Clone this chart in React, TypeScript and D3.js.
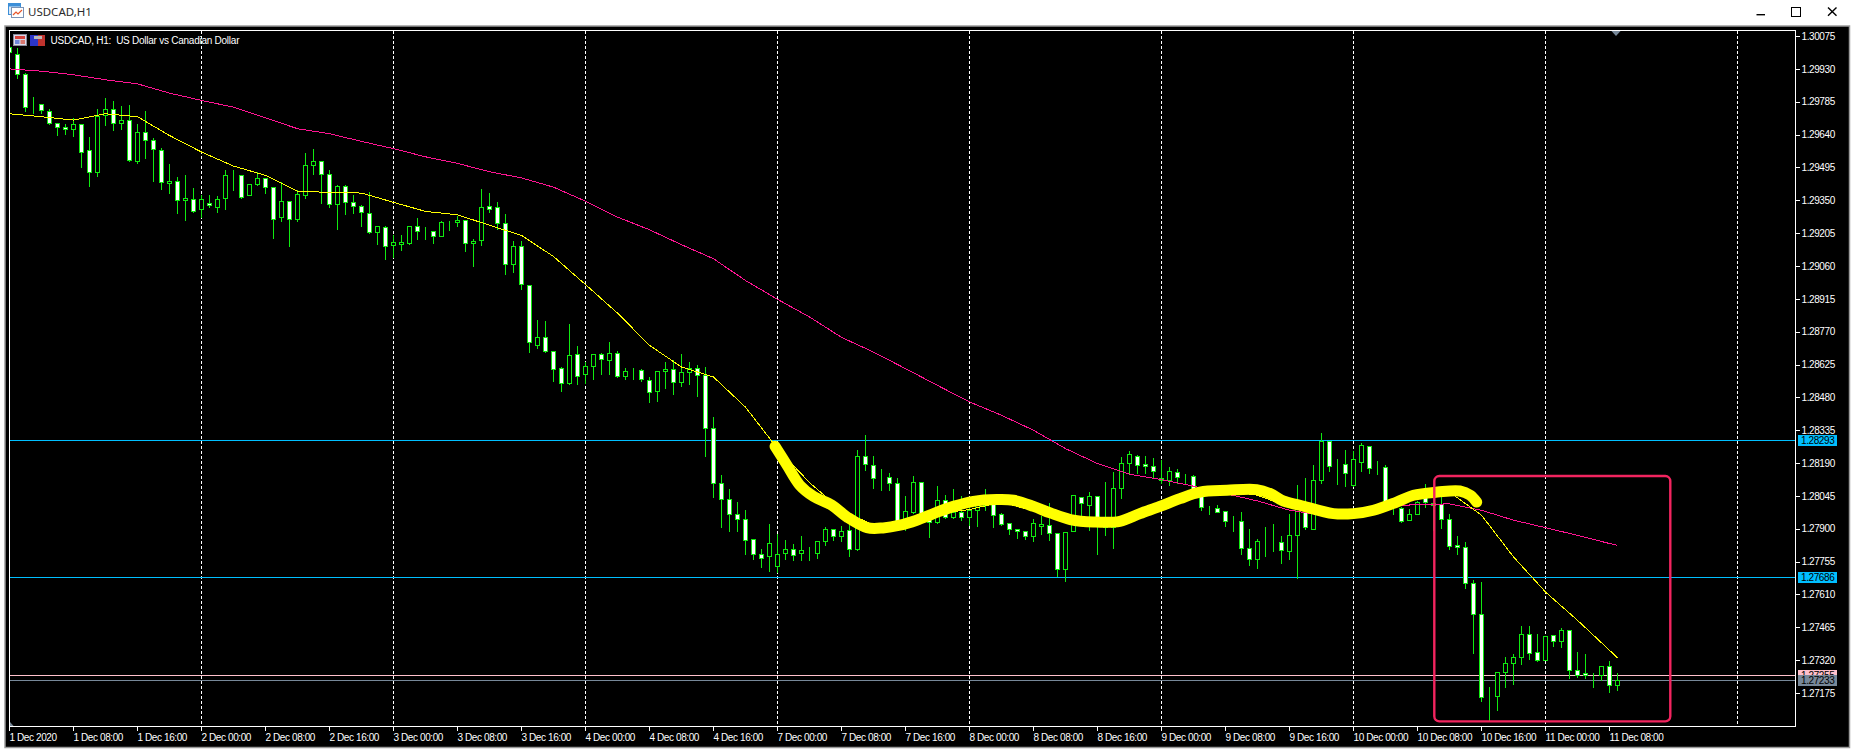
import React, { useEffect, useRef } from 'react';
import * as d3 from 'd3';

// all prices below are in points (1 point = 0.00001)
const highs = [
  130043,130028,129918,129810,129781,129756,129697,129690,129719,129685,
  129634,129756,129804,129793,129769,129773,129690,129748,129628,129584,
  129513,129457,129466,129407,129378,129378,129372,129488,129488,129465,
  129421,129481,129454,129407,129434,129346,129400,129562,129579,129528,
  129487,129421,129421,129378,129334,129391,129241,129241,129201,129201,
  129237,129275,129237,129219,129263,129263,129285,129266,129182,129403,
  129387,129347,129293,129174,129174,128975,128825,128821,128690,128619,
  128807,128710,128640,128675,128679,128729,128690,128613,128613,128609,
  128573,128595,128640,128648,128675,128640,128626,128618,128397,128141,
  128079,128023,127987,127859,127816,127926,127882,127854,127837,127872,
  127825,127851,127912,127903,127918,127925,128253,128319,128226,128169,
  128151,128129,128050,128137,128112,127976,128094,128054,128079,128050,
  128006,128050,128079,128050,127975,127932,127904,127891,127947,127962,
  128018,127881,127888,128053,128045,128068,128045,128112,128157,128222,
  128248,128229,128226,128216,128207,128178,128169,128148,128141,128065,
  128004,128009,127984,127962,127979,127903,127860,127912,127925,127872,
  127969,128097,128128,128187,128328,128288,128212,128253,128248,128282,
  128265,128204,128187,128020,127999,127991,128028,128101,128020,128043,
  127969,127873,127847,127678,127669,127207,127267,127340,127351,127476,
  127476,127441,127432,127432,127466,127453,127360,127351,127267,127300,
  127320,127269,
];

const lows = [
  129999,129891,129746,129734,129737,129687,129638,129643,129634,129498,
  129413,129459,129682,129660,129665,129525,129516,129538,129435,129400,
  129384,129293,129263,129298,129278,129319,129300,129313,129396,129360,
  129371,129418,129384,129185,129259,129148,129260,129362,129466,129340,
  129318,129224,129290,129294,129237,129207,129157,129091,129099,129131,
  129157,129179,129179,129162,129190,129219,129237,129126,129060,129153,
  129299,129224,129025,129034,128959,128678,128700,128678,128551,128510,
  128540,128540,128543,128563,128584,128584,128569,128563,128562,128551,
  128460,128466,128522,128495,128532,128540,128488,128219,128040,127909,
  127891,127891,127790,127767,127732,127715,127707,127767,127763,127763,
  127763,127772,127829,127851,127847,127781,127807,128160,128081,128072,
  128072,127910,127895,127969,127940,127865,127925,127947,127947,127937,
  127917,127913,127984,127909,127918,127878,127857,127856,127844,127878,
  127851,127693,127668,127888,127947,127895,127790,127873,127816,128037,
  128146,128146,128146,128123,128104,128094,128101,128098,128057,127984,
  127966,127975,127910,127891,127790,127741,127725,127781,127803,127750,
  127767,127681,127900,127900,128104,128157,128098,128090,128087,128156,
  128148,128143,128006,127966,127932,127937,127965,127994,127895,127904,
  127812,127790,127640,127350,127141,127057,127101,127203,127216,127304,
  127326,127316,127319,127384,127379,127242,127244,127242,127200,127234,
  127181,127189,
];

const opens = [
  130025,129994,129906,129765,129773,129746,129693,129675,129663,129685,
  129571,129473,129725,129754,129693,129703,129525,129650,129615,129571,
  129425,129434,129350,129354,129310,129337,129322,129359,129462,129460,
  129371,129421,129447,129407,129274,129346,129269,129375,129504,129522,
  129465,129332,129412,129341,129324,129293,129209,129231,129151,129156,
  129163,129235,129213,129213,129191,129254,129253,129262,129160,129173,
  129324,129319,129249,129068,129147,128975,128713,128746,128684,128609,
  128543,128670,128582,128618,128670,128644,128675,128573,128601,128600,
  128556,128507,128595,128604,128547,128591,128609,128578,128344,128101,
  128031,127965,127943,127854,127788,127778,127734,127795,127810,127791,
  127798,127795,127844,127898,127866,127894,127809,128220,128181,128126,
  128128,128101,127918,127976,128106,127969,127928,128026,127954,127975,
  127954,127981,128006,128016,127965,127925,127898,127890,127866,127910,
  127915,127881,127722,127888,128042,128007,128044,127940,127907,128078,
  128190,128223,128185,128176,128123,128115,128150,128131,128132,128057,
  127995,127991,127978,127937,127934,127815,127766,127848,127848,127841,
  127800,127872,127976,127901,128113,128288,128182,128185,128094,128193,
  128265,128169,128172,127991,127991,127937,127967,128057,128013,128009,
  127943,127828,127819,127660,127523,127160,127160,127266,127306,127332,
  127435,127356,127319,127429,127404,127453,127276,127263,127251,127254,
  127294,127209,
];

const closes = [
  130006,129906,129763,129765,129747,129693,129675,129663,129685,129565,
  129473,129723,129754,129690,129703,129526,129650,129615,129575,129429,
  129434,129350,129359,129301,129354,129328,129354,129460,129462,129365,
  129421,129447,129407,129269,129346,129269,129376,129504,129522,129465,
  129332,129412,129341,129324,129297,129209,129235,129147,129165,129165,
  129235,129213,129213,129191,129253,129254,129262,129160,129169,129319,
  129310,129249,129068,129147,128982,128723,128746,128684,128604,128543,
  128666,128573,128618,128670,128648,128675,128573,128596,128601,128560,
  128503,128595,128604,128547,128591,128609,128578,128344,128101,128031,
  127963,127941,127850,127788,127773,127837,127788,127810,127782,127806,
  127798,127845,127898,127866,127890,127809,128220,128184,128126,128126,
  128100,127925,127978,128106,127943,127929,128026,127954,127975,127951,
  127984,128006,128043,127959,127922,127897,127888,127870,127925,127920,
  127881,127722,127885,128048,128013,128044,127917,127906,128079,128190,
  128229,128181,128176,128154,128115,128154,128128,128131,128065,127994,
  127995,127976,127934,127937,127813,127766,127846,127848,127848,127806,
  127872,127991,127906,128115,128288,128175,128182,128144,128207,128269,
  128168,128169,128013,127991,127935,127965,128016,128016,128004,127943,
  127822,127819,127660,127523,127157,127160,127267,127307,127334,127435,
  127351,127319,127426,127404,127453,127275,127254,127254,127251,127294,
  127209,127232,
];

// moving averages, read every 4th bar plus the last one
const maBars = [...d3.range(0, 201, 4), 201];
const maFast = [
  129734,129721,129706,129734,129721,129638,129565,129503,129462,129392,
  129387,129384,129343,129303,129288,129242,129197,129104,128980,128854,
  128712,128616,128572,128439,128256,128106,127984,127918,127932,127969,
  127987,128020,127981,127952,127932,127960,128001,128050,128072,128050,
  127998,127981,127969,128006,128042,128064,127962,127778,127623,127498,
  127366,127332,
];
const maSlow = [
  129932,129922,129906,129884,129866,129825,129793,129763,129716,129668,
  129646,129612,129580,129544,129515,129478,129451,129410,129348,129278,
  129222,129156,129094,128998,128915,128837,128747,128682,128609,128535,
  128462,128403,128337,128256,128190,128143,128119,128090,128057,128025,
  127984,127962,127979,128001,128009,128012,127984,127940,127907,127873,
  127837,127829,
];

// the thick yellow line drawn by hand over the chart
const brushBars = [
  95.7,97.2,98.8,100.5,102.8,104.7,107.2,109.2,111.3,113.4,115.5,118,120.5,123.4,125.5,128,130.1,132.6,135.5,
  138.8,141.3,143.8,146.3,148.8,152.2,155.9,157.6,159.2,161.3,165.5,168,170.5,173.4,175.5,178.5,181.3,182.6,183.4,
];
const brushPrices = [
  128266,128182,128094,128045,128006,127954,127907,127906,127918,127940,127969,128001,128023,128031,128028,128001,127972,127943,127932,
  127935,127969,128001,128035,128064,128072,128075,128057,128025,128006,127969,127969,127984,128020,128050,128064,128069,128050,128020,
];

// the rounded box drawn by hand: bars and prices of its corners
const boxBars = [178.1, 207.6];
const boxPrices = [128135, 127052];

const priceTicks = [
  130075,129930,129785,129640,129495,129350,129205,129060,128915,128770,128625,
  128480,128335,128190,128045,127900,127755,127610,127465,127320,127175,
];

const timeLabels = [
  '1 Dec 2020','1 Dec 08:00','1 Dec 16:00','2 Dec 00:00','2 Dec 08:00','2 Dec 16:00',
  '3 Dec 00:00','3 Dec 08:00','3 Dec 16:00','4 Dec 00:00','4 Dec 08:00','4 Dec 16:00',
  '7 Dec 00:00','7 Dec 08:00','7 Dec 16:00','8 Dec 00:00','8 Dec 08:00','8 Dec 16:00',
  '9 Dec 00:00','9 Dec 08:00','9 Dec 16:00','10 Dec 00:00','10 Dec 08:00','10 Dec 16:00',
  '11 Dec 00:00','11 Dec 08:00',
];

const gridBars = d3.range(24, 217, 24);
const levelLines = [
  { price: 128293, color: '#00bfff' },
  { price: 127686, color: '#00bfff' },
  { price: 127255, color: '#ffc0cb' },
  { price: 127233, color: '#778899' },
];

const AXIS_FONT = '"Liberation Sans", Arial, sans-serif';

const App: React.FC = () => {
  const svgRef = useRef<SVGSVGElement>(null);

  useEffect(() => {
    if (!svgRef.current) return;
    const svg = d3.select(svgRef.current);
    svg.selectAll('*').remove();

    const left = 9.5, right = 1795.5, top = 30.5, bottom = 726.5;

    // 8px per bar, one pixel per 4.41 points
    const x = d3.scaleLinear().domain([0, 200]).range([9.5, 1609.5]);
    const y = d3.scaleLinear().domain([127175, 130075]).range([693.5, 36.5]);
    const py = (p: number) => Math.round(y(p) - 0.5) + 0.5;

    // window chrome
    svg.append('rect').attr('width', 1857).attr('height', 754).attr('fill', '#ffffff');
    svg.append('text').attr('x', 28).attr('y', 16)
      .attr('font-family', '"Noto Sans", sans-serif').attr('font-size', 11.5).attr('fill', '#2b2b2b')
      .text('USDCAD,H1');

    const icon = svg.append('g');
    icon.append('rect').attr('x', 8.5).attr('y', 3.5).attr('width', 12).attr('height', 11).attr('fill', '#dbe9f8').attr('stroke', '#3d8fd8');
    icon.append('rect').attr('x', 8.5).attr('y', 3.5).attr('width', 12).attr('height', 3).attr('fill', '#3d8fd8');
    icon.append('rect').attr('x', 11.5).attr('y', 7.5).attr('width', 12).attr('height', 10).attr('fill', '#ffffff').attr('stroke', '#7b93b5');
    icon.append('path').attr('d', 'M13 15 L16 12 L18 14 L22 10').attr('fill', 'none').attr('stroke', '#e8562a').attr('stroke-width', 1.2);

    svg.append('rect').attr('x', 1756.5).attr('y', 14).attr('width', 8.5).attr('height', 1.4).attr('fill', '#000');
    svg.append('rect').attr('x', 1791.5).attr('y', 7.5).attr('width', 9).attr('height', 9).attr('fill', 'none').attr('stroke', '#000');
    svg.append('path').attr('d', 'M1828 7.5 L1836.5 15.8 M1836.5 7.5 L1828 15.8').attr('stroke', '#000').attr('stroke-width', 1.4);

    // chart child window
    svg.append('rect').attr('x', 5).attr('y', 26).attr('width', 1844.5).attr('height', 721.5)
      .attr('fill', '#000000').attr('stroke', '#9a9a9a').attr('stroke-width', 1.5);

    const defs = svg.append('defs');
    defs.append('clipPath').attr('id', 'plot').append('rect')
      .attr('x', left).attr('y', top).attr('width', right - left).attr('height', bottom - top);

    const plot = svg.append('g').attr('clip-path', 'url(#plot)');

    // vertical grid
    plot.append('g').selectAll('line').data(gridBars).join('line')
      .attr('x1', d => x(d)).attr('x2', d => x(d))
      .attr('y1', top).attr('y2', bottom)
      .attr('stroke', '#ffffff').attr('stroke-dasharray', '3 2')
      .attr('shape-rendering', 'crispEdges');

    // horizontal levels
    plot.append('g').selectAll('line').data(levelLines).join('line')
      .attr('x1', left).attr('x2', right)
      .attr('y1', d => py(d.price)).attr('y2', d => py(d.price))
      .attr('stroke', d => d.color)
      .attr('shape-rendering', 'crispEdges');

    // candles
    const green = '#10ea10';
    const bars = d3.range(highs.length);
    const candles = plot.append('g').attr('shape-rendering', 'crispEdges');
    candles.selectAll('line').data(bars).join('line')
      .attr('x1', i => x(i)).attr('x2', i => x(i))
      .attr('y1', i => py(highs[i])).attr('y2', i => py(lows[i]))
      .attr('stroke', green);
    candles.selectAll('rect').data(bars).join('rect')
      .attr('x', i => x(i) - 2).attr('width', 4)
      .attr('y', i => py(Math.max(opens[i], closes[i])))
      .attr('height', i => py(Math.min(opens[i], closes[i])) - py(Math.max(opens[i], closes[i])))
      .attr('fill', i => (closes[i] < opens[i] ? '#ffffff' : '#000000'))
      .attr('stroke', green);

    // moving averages
    const maLine = d3.line<number>()
      .x((_, i) => x(maBars[i]))
      .y(d => y(d));
    plot.append('path').datum(maSlow).attr('d', maLine)
      .attr('fill', 'none').attr('stroke', '#ff1493').attr('shape-rendering', 'crispEdges');
    plot.append('path').datum(maFast).attr('d', maLine)
      .attr('fill', 'none').attr('stroke', '#ffff00').attr('shape-rendering', 'crispEdges');

    // hand drawn marks
    const brush = d3.line<number>()
      .x((_, i) => x(brushBars[i]))
      .y(d => y(d))
      .curve(d3.curveCatmullRom);
    plot.append('path').datum(brushPrices).attr('d', brush)
      .attr('fill', 'none').attr('stroke', '#ffff00').attr('stroke-width', 11)
      .attr('stroke-linecap', 'round').attr('stroke-linejoin', 'round');

    plot.append('rect')
      .attr('x', x(boxBars[0])).attr('width', x(boxBars[1]) - x(boxBars[0]))
      .attr('y', y(boxPrices[0])).attr('height', y(boxPrices[1]) - y(boxPrices[0]))
      .attr('rx', 5).attr('ry', 5)
      .attr('fill', 'none').attr('stroke', '#f2245f').attr('stroke-width', 2.4);

    // small markers on the chart edges
    plot.append('path').attr('d', 'M1611 30.5 L1621 30.5 L1616 36 Z').attr('fill', '#778899');
    plot.append('path').attr('d', 'M10 722 L14 726.5 L10 726.5 Z').attr('fill', '#778899');

    // legend
    const legend = svg.append('g');
    legend.append('rect').attr('x', 13.5).attr('y', 34.5).attr('width', 13).attr('height', 11).attr('fill', '#d8d8e8').attr('stroke', '#8a8a9a');
    legend.append('rect').attr('x', 15).attr('y', 36).attr('width', 10).attr('height', 3).attr('fill', '#d8433c');
    legend.append('rect').attr('x', 15).attr('y', 40).attr('width', 4.5).attr('height', 4).attr('fill', '#6f86d8');
    legend.append('rect').attr('x', 20.5).attr('y', 40).attr('width', 4.5).attr('height', 4).attr('fill', '#d8776f');
    legend.append('rect').attr('x', 30).attr('y', 35).attr('width', 8).attr('height', 11).attr('fill', '#2b35c8');
    legend.append('rect').attr('x', 38).attr('y', 35).attr('width', 7).attr('height', 11).attr('fill', '#c0332e');
    legend.append('rect').attr('x', 34).attr('y', 36).attr('width', 8).attr('height', 3).attr('fill', '#b8b8b8');
    legend.append('text').attr('x', 50.5).attr('y', 44)
      .attr('font-family', AXIS_FONT).attr('font-size', 10).attr('letter-spacing', -0.25).attr('fill', '#ffffff')
      .style('white-space', 'pre')
      .text('USDCAD, H1:  US Dollar vs Canadian Dollar');

    // frame
    svg.append('rect').attr('x', left).attr('y', top).attr('width', right - left).attr('height', bottom - top)
      .attr('fill', 'none').attr('stroke', '#ffffff').attr('shape-rendering', 'crispEdges');

    // price axis
    const yAxis = d3.axisRight(y)
      .tickValues(priceTicks)
      .tickFormat(d => (+d / 1e5).toFixed(5))
      .tickSize(4)
      .tickPadding(2)
      .offset(0);
    const yG = svg.append('g').attr('transform', `translate(${right},0)`).call(yAxis);
    yG.select('.domain').remove();
    yG.selectAll('line').attr('stroke', '#ffffff').attr('shape-rendering', 'crispEdges');
    yG.selectAll('text').attr('fill', '#ffffff').attr('font-family', AXIS_FONT).attr('font-size', 10).attr('letter-spacing', -0.4);

    // time axis
    const xAxis = d3.axisBottom(x)
      .tickValues(d3.range(0, 201, 8))
      .tickFormat((_, i) => timeLabels[i])
      .tickSize(4)
      .offset(0);
    const xG = svg.append('g').attr('transform', `translate(0,${bottom})`).call(xAxis);
    xG.select('.domain').remove();
    xG.selectAll('line').attr('stroke', '#ffffff').attr('shape-rendering', 'crispEdges');
    xG.selectAll('text').attr('fill', '#ffffff').attr('font-family', AXIS_FONT).attr('font-size', 10)
      .attr('letter-spacing', -0.4).attr('text-anchor', 'start').attr('x', 0).attr('y', 7).attr('dy', '0.71em');

    // price labels on the right edge
    const tags = svg.append('g');
    tags.selectAll('g').data(levelLines).join('g').each(function (d) {
      const g = d3.select(this);
      g.append('rect').attr('x', 1798).attr('y', py(d.price) - 5.5).attr('width', 39).attr('height', 11)
        .attr('fill', d.color).attr('shape-rendering', 'crispEdges');
      g.append('text').attr('x', 1801).attr('y', py(d.price) + 3.5)
        .attr('font-family', AXIS_FONT).attr('font-size', 10).attr('letter-spacing', -0.4).attr('fill', '#000')
        .text((d.price / 1e5).toFixed(5));
    });
  }, []);

  return (
    <svg
      ref={svgRef}
      width={1857}
      height={754}
      style={{ position: 'absolute', top: 0, left: 0, display: 'block' }}
    />
  );
};

export default App;
